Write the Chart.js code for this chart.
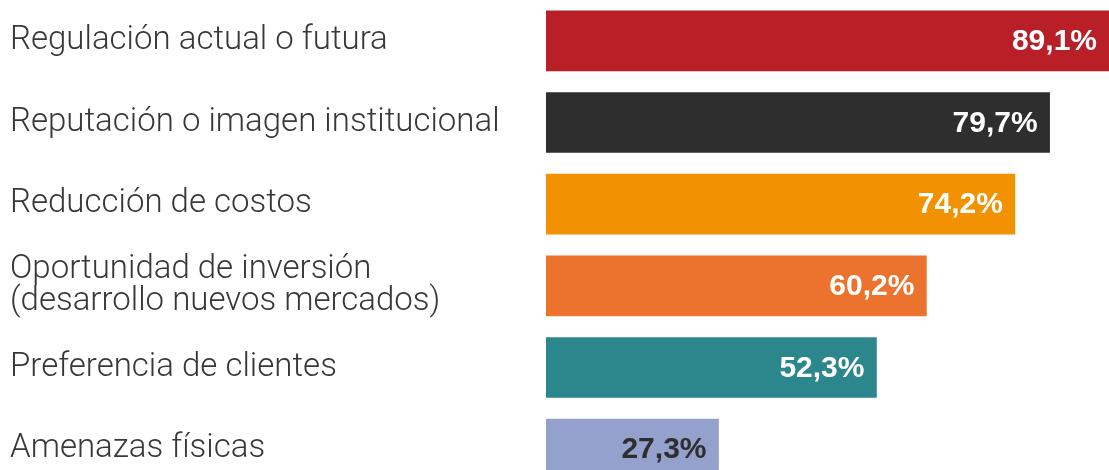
<!DOCTYPE html>
<html>
<head>
<meta charset="utf-8">
<script src="https://cdn.jsdelivr.net/npm/chart.js@4/dist/chart.umd.min.js"></script>
<style>
    html, body { margin: 0; padding: 0; background: #fff; overflow: hidden; }
    #wrap { width: 1109px; height: 490px; }
</style>
</head>
<body>
<div id="wrap"><canvas id="driversChart"></canvas></div>
<script>
// Data
const categories = [
    "Regulación actual o futura",
    "Reputación o imagen institucional",
    "Reducción de costos",
    ["Oportunidad de inversión", "(desarrollo nuevos mercados)"],
    "Preferencia de clientes",
    "Amenazas físicas"
];
const shares = [89.1, 79.7, 74.2, 60.2, 52.3, 27.3];
const barColors = ["#b81f27", "#2e2e2e", "#f39200", "#ec732d", "#2c878d", "#93a1cc"];
const valueColors = ["#ffffff", "#ffffff", "#ffffff", "#ffffff", "#ffffff", "#2e2e2e"];

function formatShare(v) {
    return v.toFixed(1).replace(".", ",") + "%";
}

// Draws the value inside the end of each bar
const valueLabels = {
    id: "valueLabels",
    afterDatasetsDraw(chart) {
        const ctx = chart.ctx;
        const meta = chart.getDatasetMeta(0);
        ctx.save();
        ctx.font = "bold 30px 'Liberation Sans', Arial, sans-serif";
        ctx.textAlign = "right";
        ctx.textBaseline = "middle";
        meta.data.forEach((bar, i) => {
            ctx.fillStyle = valueColors[i];
            ctx.fillText(formatShare(shares[i]), bar.x - 12, bar.y + 1);
        });
        ctx.restore();
    }
};

document.addEventListener("DOMContentLoaded", () => {
    const ctx = document.getElementById("driversChart").getContext("2d");
    new Chart(ctx, {
        type: "bar",
        data: {
            labels: categories,
            datasets: [{
                data: shares,
                backgroundColor: barColors,
                borderWidth: 0,
                barThickness: 60
            }]
        },
        options: {
            indexAxis: "y",
            responsive: true,
            maintainAspectRatio: false,
            animation: false,
            layout: { padding: { left: 10, right: 0, top: 0, bottom: 0 } },
            plugins: {
                legend: { display: false },
                tooltip: { enabled: false }
            },
            scales: {
                x: {
                    display: false,
                    min: 0,
                    max: 89.1
                },
                y: {
                    grid: { display: false, drawTicks: false },
                    border: { display: false },
                    afterFit: (scale) => {
                        scale.width = 536;
                        // no extra room for the first/last label
                        scale.paddingTop = 0;
                        scale.paddingBottom = 0;
                    },
                    ticks: {
                        crossAlign: "far",
                        padding: 0,
                        color: "#383838",
                        font: { family: "Roboto, 'Liberation Sans', sans-serif", size: 33, weight: "300", lineHeight: 0.98 }
                    }
                }
            }
        },
        plugins: [valueLabels]
    });
});
</script>
</body>
</html>
